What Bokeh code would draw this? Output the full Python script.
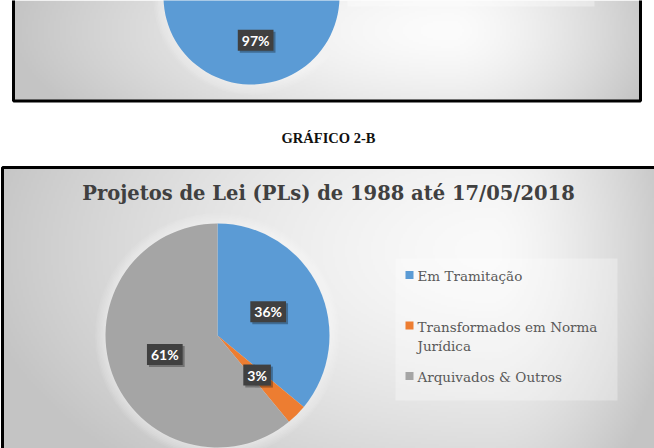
import numpy as np
from bokeh.plotting import figure
from bokeh.models import Range1d
from bokeh.core.properties import value
from bokeh.embed import file_html
from bokeh.resources import INLINE

W, H = 654, 448

# ---- data ----
categories = ["Em Tramitação", "Transformados em Norma Jurídica", "Arquivados & Outros"]
legend_text = ["Em Tramitação", "Transformados em Norma\nJurídica", "Arquivados & Outros"]
bottom_values = [36, 3, 61]
bottom_labels = ["36%", "3%", "61%"]
top_values = [97, 3]
top_labels = ["97%", ""]
colors = ["#5B9BD5", "#ED7D31", "#A5A5A5"]
title_text = "Projetos de Lei (PLs) de 1988 até 17/05/2018"
caption_text = "GRÁFICO 2-B"

p = figure(width=W, height=H, x_range=Range1d(0, W), y_range=Range1d(0, H),
           output_backend="svg", toolbar_location=None, min_border=0)
p.axis.visible = False
p.grid.visible = False
p.outline_line_color = None
p.background_fill_color = "white"
p.border_fill_color = "white"


def Y(py):
    return H - py


def gradient(x0, x1, y0, y1, cx, cy, rxl, rxr, ry, lo, hi, step=2):
    xs = np.arange(x0, x1, step) + step / 2
    ys = np.arange(y0, y1, step) + step / 2
    X, Yp = np.meshgrid(xs, ys)
    rx = np.where(X < cx, rxl, rxr)
    t = np.sqrt(((X - cx) / rx) ** 2 + ((Yp - cy) / ry) ** 2)
    t = np.clip(t, 0, 1)
    g = (hi - (hi - lo) * t ** 1.5).astype(np.uint8)
    img = np.empty(X.shape, dtype=np.uint32)
    view = img.view(np.uint8).reshape(X.shape + (4,))
    view[..., 0] = g
    view[..., 1] = g
    view[..., 2] = g
    view[..., 3] = 255
    img = img[::-1].copy()
    p.image_rgba(image=[img], x=x0, y=Y(y1), dw=x1 - x0, dh=y1 - y0)


def pie(values, labels, cx_px, cy_px, r):
    cx, cy = cx_px, Y(cy_px)
    fr = np.array(values, dtype=float) / sum(values)
    cum = np.concatenate([[0.0], np.cumsum(fr)])
    start = np.pi / 2 - 2 * np.pi * cum[:-1]
    end = np.pi / 2 - 2 * np.pi * cum[1:]
    for k in range(1, 8):
        p.circle(x=cx, y=cy, radius=r + k * 1.5, fill_color="white",
                 fill_alpha=0.07, line_color=None)
    p.wedge(x=cx, y=cy, radius=r, start_angle=list(start), end_angle=list(end),
            direction="clock", fill_color=colors[:len(values)], line_color=None)
    mid = (start + end) / 2
    lx = cx + 0.5 * r * np.cos(mid)
    ly = cy + 0.5 * r * np.sin(mid)
    keep = [i for i, s in enumerate(labels) if s]
    xs = [lx[i] for i in keep]
    ys = [ly[i] for i in keep]
    tx = [labels[i] for i in keep]
    p.text(x=xs, y=ys, text=tx, text_align="center", text_baseline="middle",
           text_alpha=0, text_font=value("Lato"), text_font_style="bold",
           text_font_size="14px", background_fill_color="black",
           background_fill_alpha=0.3, padding=(4, 2), x_offset=2, y_offset=2)
    p.text(x=xs, y=ys, text=tx, text_align="center", text_baseline="middle",
           text_color="white", text_font=value("Lato"), text_font_style="bold",
           text_font_size="14px", background_fill_color="#404040",
           padding=(4, 2))


# ---- top (partial) chart ----
gradient(13, 640, 0, 101, 450, 30, 440, 210, 160, 196, 252)
p.quad(left=[347], right=[594], top=[Y(0)], bottom=[Y(6)],
       fill_color="white", fill_alpha=0.35, line_color=None)
pie(top_values, top_labels, 251, -4, 88)
p.quad(left=[13], right=[640], top=[Y(-10)], bottom=[Y(100.5)],
       fill_color=None, line_color="black", line_width=3)

# ---- caption ----
p.text(x=[328], y=[Y(137)], text=[caption_text], text_align="center",
       text_baseline="middle", text_color="#111111",
       text_font=value("Times New Roman"), text_font_style="bold",
       text_font_size="14.5px")

# ---- bottom chart ----
gradient(2, 660, 167, 460, 490, 250, 520, 185, 300, 196, 250)
p.quad(left=[395], right=[617], top=[Y(258)], bottom=[Y(400)],
       fill_color="white", fill_alpha=0.3, line_color=None)
p.text(x=[328], y=[Y(193)], text=[title_text], text_align="center",
       text_baseline="middle", text_color="#404040",
       text_font=value("DejaVu Serif"), text_font_style="bold",
       text_font_size="19.5px")
pie(bottom_values, bottom_labels, 217, 335, 112)

leg_y = [Y(274.5 + i * 50.5) for i in range(len(categories))]
p.scatter(x=[409] * len(categories), y=leg_y, marker="square", size=8,
          fill_color=colors, line_color=None)
p.text(x=[417] * len(categories), y=[v + 7 for v in leg_y], text=legend_text,
       text_align="left", text_baseline="top", text_color="#595959",
       text_font=value("DejaVu Serif"), text_font_size="13.5px",
       text_line_height=1.2)

p.quad(left=[2], right=[670], top=[Y(167)], bottom=[Y(470)],
       fill_color=None, line_color="black", line_width=3)

open("out.html", "w").write(file_html(p, INLINE))
